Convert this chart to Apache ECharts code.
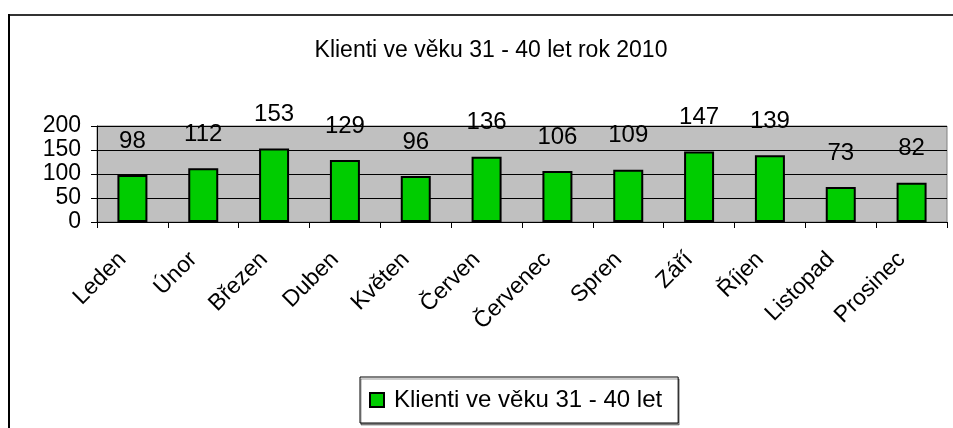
<!DOCTYPE html>
<html>
<head>
<meta charset="utf-8">
<script src="https://cdn.jsdelivr.net/npm/echarts@6/dist/echarts.min.js"></script>
<style>
  html, body { margin: 0; padding: 0; background: #fff; }
  #chart { width: 953px; height: 428px; }
</style>
</head>
<body>
<div id="chart"></div>
<script>
var titleText = 'Klienti ve věku 31 - 40 let rok 2010'
var seriesName = 'Klienti ve věku 31 - 40 let'
var months = ['Leden', 'Únor', 'Březen', 'Duben', 'Květen', 'Červen',
  'Červenec', 'Spren', 'Září', 'Říjen', 'Listopad', 'Prosinec']
var clients = [98, 112, 153, 129, 96, 136, 106, 109, 147, 139, 73, 82]
var yTicks = { min: 0, max: 200, step: 50 }

var font = 'Liberation Sans, Arial, sans-serif'
var myChart = echarts.init(document.getElementById('chart'))

myChart.setOption({
  animation: false,
  title: {
    text: titleText,
    left: 486,
    top: 34,
    textAlign: 'center',
    textStyle: { fontFamily: font, fontSize: 23, fontWeight: 'normal', color: '#000' }
  },
  legend: {
    left: 360,
    top: 377,
    padding: [11, 16, 11, 9],
    borderColor: '#000',
    borderWidth: 1,
    backgroundColor: '#fff',
    shadowColor: 'rgba(0,0,0,0.4)',
    shadowOffsetX: 1,
    shadowOffsetY: 2,
    itemWidth: 14,
    itemHeight: 14,
    icon: 'rect',
    textStyle: { fontFamily: font, fontSize: 24, color: '#000', padding: [0, 0, 0, 5] },
    data: [seriesName]
  },
  grid: {
    left: 97,
    right: 6,
    top: 126,
    bottom: 206,
    show: true,
    backgroundColor: '#C0C0C0',
    borderColor: '#808080',
    borderWidth: 1
  },
  xAxis: {
    type: 'category',
    data: months,
    axisLine: { lineStyle: { color: '#000', width: 1 } },
    axisTick: { show: true, length: 6, lineStyle: { color: '#000' } },
    axisLabel: {
      rotate: 45,
      margin: 24,
      padding: [0, 14, 0, 0],
      interval: 0,
      fontFamily: font,
      fontSize: 23,
      color: '#000'
    }
  },
  yAxis: {
    type: 'value',
    min: yTicks.min,
    max: yTicks.max,
    interval: yTicks.step,
    axisLine: { show: true, lineStyle: { color: '#000', width: 1 } },
    axisTick: { show: true, length: 6, lineStyle: { color: '#000' } },
    axisLabel: { margin: 16, fontFamily: font, fontSize: 23, color: '#000' },
    splitLine: { show: true, lineStyle: { color: '#000', width: 1 } }
  },
  series: [
    {
      name: seriesName,
      type: 'bar',
      data: clients,
      barWidth: 30,
      itemStyle: { color: '#00CC00', borderColor: '#000', borderWidth: 2 },
      label: {
        show: true,
        position: 'top',
        distance: 22,
        fontFamily: font,
        fontSize: 24,
        color: '#000'
      }
    }
  ],
  graphic: [
    {
      type: 'line',
      shape: { x1: 8, y1: 15, x2: 953, y2: 15 },
      style: { stroke: '#333', lineWidth: 2 }
    },
    {
      type: 'line',
      shape: { x1: 9, y1: 14, x2: 9, y2: 428 },
      style: { stroke: '#000', lineWidth: 2 }
    }
  ]
})
</script>
</body>
</html>
